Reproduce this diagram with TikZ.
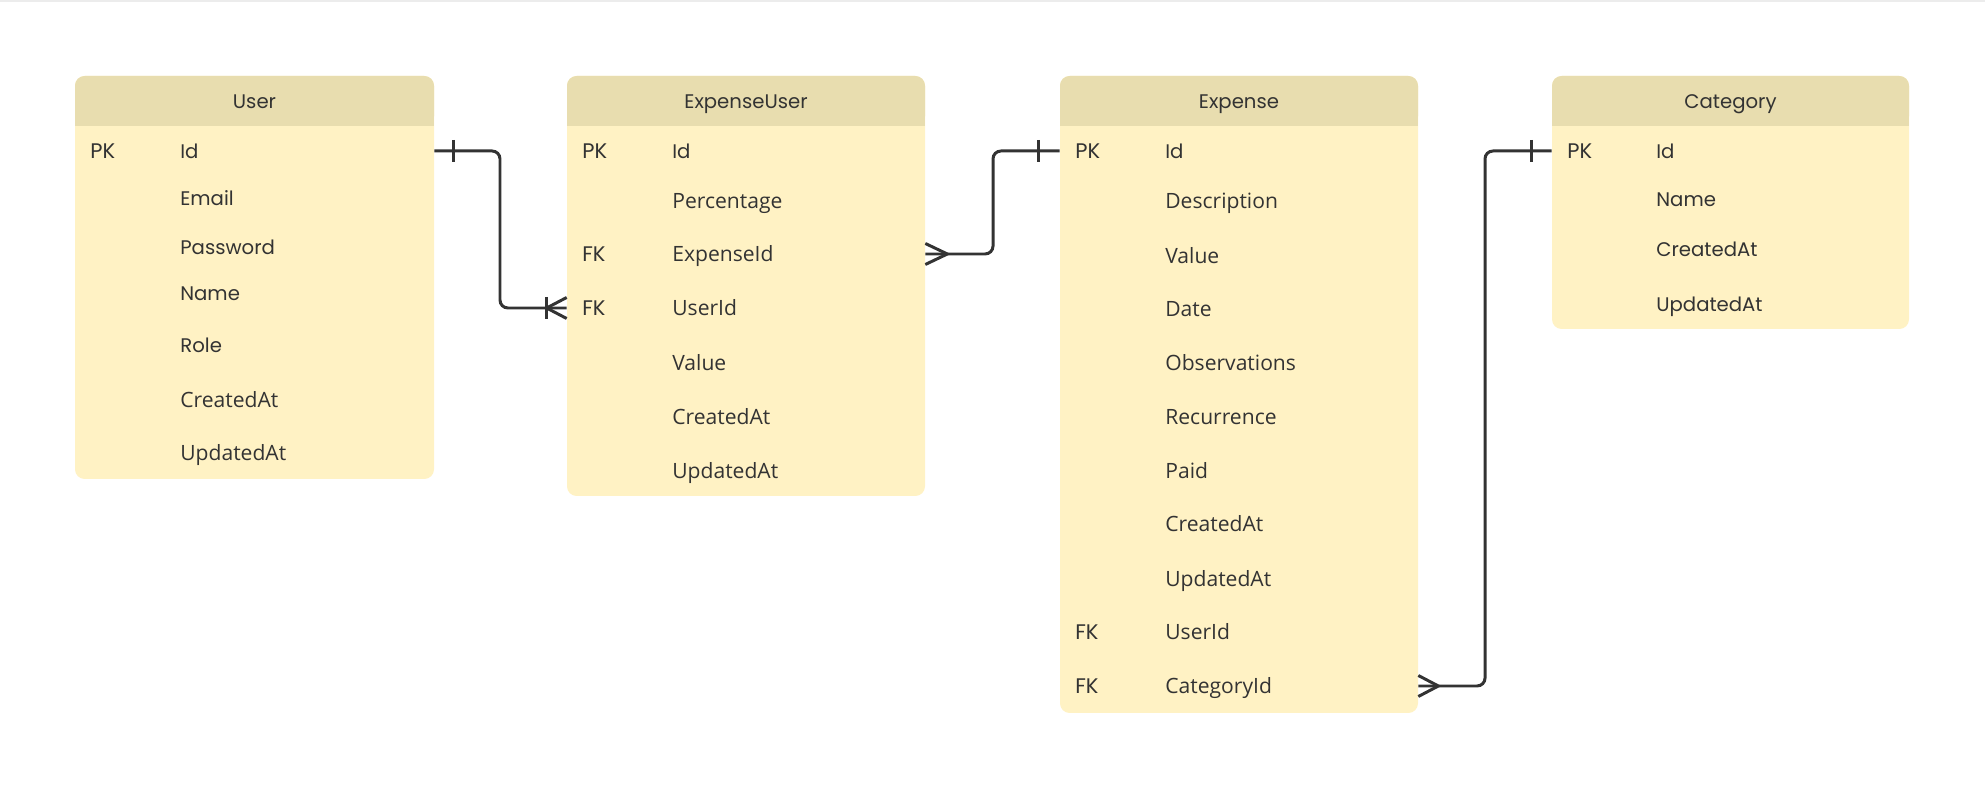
\documentclass[tikz,border=0pt]{standalone}
\usepackage{fontspec}
\setmainfont{Open Sans}
\newfontfamily\hdfont{Poppins}
\usepackage{tikz}
\usetikzlibrary{calc, fit}
\definecolor{erBody}{RGB}{255,242,196}
\definecolor{erHead}{RGB}{232,221,175}
\definecolor{erInk}{RGB}{51,51,51}
\definecolor{erEdge}{RGB}{236,236,236}

\begin{document}
\begin{tikzpicture}[x=0.02cm, y=-0.02cm,
    tbl/.style={fill=erBody, rounded corners=5.5pt, inner sep=0pt},
    hdr/.style={fill=erHead, rounded corners=5.5pt, inner sep=0pt},
    ttl/.style={inner sep=0pt, text height=8pt, text depth=0pt,
        font=\hdfont\fontsize{11.2}{14}\selectfont, text=erInk},
    key/.style={anchor=west, inner xsep=0pt, inner ysep=0pt,
        text height=8.6pt, text depth=0pt,
        font=\hdfont\fontsize{12}{14}\selectfont, text=erInk},
    fldp/.style={key, text height=8pt, font=\hdfont\fontsize{11.2}{14}\selectfont},
    fld/.style={key, font=\fontsize{12}{14}\selectfont},
    rel/.style={draw=erInk, line width=1.7pt, rounded corners=4.5pt},
    tick/.style={draw=erInk, line width=1.7pt}
]
\useasboundingbox (0,0) rectangle (1985,786);
\fill[erEdge] (0,0) rectangle (1985,2);

% tables
\node[tbl, fit={(75,76) (434,479)}] (user) {};
\node[hdr, fit={(75,76) (434,126)}] (user-hd) {};
\fill[erHead] (user-hd.west) rectangle (user-hd.south east);
\node[ttl] (user-t) at (user-hd) {User};

\node[tbl, fit={(567,76) (925,496)}] (eu) {};
\node[hdr, fit={(567,76) (925,126)}] (eu-hd) {};
\fill[erHead] (eu-hd.west) rectangle (eu-hd.south east);
\node[ttl] (eu-t) at (eu-hd) {ExpenseUser};

\node[tbl, fit={(1060,76) (1418,713)}] (ex) {};
\node[hdr, fit={(1060,76) (1418,126)}] (ex-hd) {};
\fill[erHead] (ex-hd.west) rectangle (ex-hd.south east);
\node[ttl] (ex-t) at (ex-hd) {Expense};

\node[tbl, fit={(1552,76) (1909,329)}] (cat) {};
\node[hdr, fit={(1552,76) (1909,126)}] (cat-hd) {};
\fill[erHead] (cat-hd.west) rectangle (cat-hd.south east);
\node[ttl] (cat-t) at (cat-hd) {Category};

% User fields
\node[key] (u-pk) at (90,151) {PK};
\node[fldp] (u-id) at (180,151) {Id};
\node[fldp] (u-email) at (180,198) {Email};
\node[fldp] (u-pass) at (180,247) {Password};
\node[fldp] (u-name) at (180,293) {Name};
\node[fldp] (u-role) at (180,345) {Role};
\node[fld] (u-created) at (180,400) {CreatedAt};
\node[fld] (u-updated) at (180,453) {UpdatedAt};

% ExpenseUser fields
\node[key] (eu-pk) at (582,151) {PK};
\node[fldp] (eu-id) at (672,151) {Id};
\node[fld] (eu-perc) at (672,201) {Percentage};
\node[key] (eu-fk1) at (582,254) {FK};
\node[fld] (eu-expid) at (672,254) {ExpenseId};
\node[key] (eu-fk2) at (582,308) {FK};
\node[fld] (eu-userid) at (672,308) {UserId};
\node[fld] (eu-value) at (672,363) {Value};
\node[fld] (eu-created) at (672,417) {CreatedAt};
\node[fld] (eu-updated) at (672,471) {UpdatedAt};

% Expense fields
\node[key] (ex-pk) at (1075,151) {PK};
\node[fldp] (ex-id) at (1165,151) {Id};
\node[fld] (ex-desc) at (1165,201) {Description};
\node[fld] (ex-value) at (1165,256) {Value};
\node[fld] (ex-date) at (1165,309) {Date};
\node[fld] (ex-obs) at (1165,363) {Observations};
\node[fld] (ex-rec) at (1165,417) {Recurrence};
\node[fld] (ex-paid) at (1165,471) {Paid};
\node[fld] (ex-created) at (1165,524) {CreatedAt};
\node[fld] (ex-updated) at (1165,579) {UpdatedAt};
\node[key] (ex-fk1) at (1075,632) {FK};
\node[fld] (ex-userid) at (1165,632) {UserId};
\node[key] (ex-fk2) at (1075,686) {FK};
\node[fld] (ex-catid) at (1165,686) {CategoryId};

% Category fields
\node[key] (cat-pk) at (1567,151) {PK};
\node[fldp] (cat-id) at (1656,151) {Id};
\node[fldp] (cat-name) at (1656,199) {Name};
\node[fldp] (cat-created) at (1656,249) {CreatedAt};
\node[fldp] (cat-updated) at (1656,304) {UpdatedAt};

% relations
\coordinate (bend1) at (500,0);
\coordinate (bend2) at (993,0);
\coordinate (bend3) at (1485,0);

\draw[rel] (user.east |- u-id) -| (bend1 |- eu-userid) -- (eu.west |- eu-userid);
\draw[tick] ($(user.east |- u-id)+(19,-11)$) -- ++(0,22);
\draw[tick] ($(eu.west |- eu-userid)+(-20,-11)$) -- ++(0,22);
\draw[tick] ($(eu.west |- eu-userid)+(0,-10.5)$) -- ($(eu.west |- eu-userid)+(-20,0)$)
    -- ($(eu.west |- eu-userid)+(0,10.5)$);

\draw[rel] (eu.east |- eu-expid) -| (bend2 |- ex-id) -- (ex.west |- ex-id);
\draw[tick] ($(eu.east |- eu-expid)+(0,-10.5)$) -- ($(eu.east |- eu-expid)+(22,0)$)
    -- ($(eu.east |- eu-expid)+(0,10.5)$);
\draw[tick] ($(ex.west |- ex-id)+(-21,-11)$) -- ++(0,22);

\draw[rel] (ex.east |- ex-catid) -| (bend3 |- cat-id) -- (cat.west |- cat-id);
\draw[tick] ($(ex.east |- ex-catid)+(0,-10.5)$) -- ($(ex.east |- ex-catid)+(20,0)$)
    -- ($(ex.east |- ex-catid)+(0,10.5)$);
\draw[tick] ($(cat.west |- cat-id)+(-20,-11)$) -- ++(0,22);
\end{tikzpicture}
\end{document}
